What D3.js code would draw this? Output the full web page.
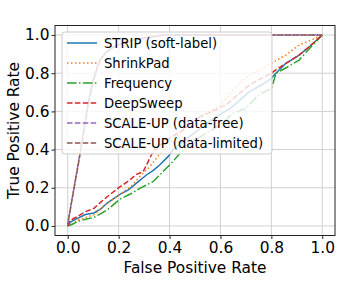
<!DOCTYPE html>
<html>
<head>
<meta charset="utf-8">
<script src="https://cdn.jsdelivr.net/npm/d3@7"></script>
<style>
    body { margin: 0; background: #fff; }
    text { font-family: "DejaVu Sans", sans-serif; fill: #000; }
</style>
</head>
<body>
<div id="svgcontainer"></div>
<script>
// ROC points: [false positive rate, true positive rate]
var strip = [[0, 0], [0.01, 0.02], [0.038, 0.04], [0.07, 0.06], [0.103, 0.068], [0.13, 0.09], [0.155, 0.12],
    [0.205, 0.165], [0.24, 0.19], [0.27, 0.224], [0.309, 0.267], [0.335, 0.29], [0.361, 0.319], [0.394, 0.363],
    [0.413, 0.398], [0.45, 0.44], [0.5, 0.49], [0.57, 0.56], [0.648, 0.625], [0.713, 0.703], [0.77, 0.745],
    [0.8, 0.773], [0.81, 0.79], [0.857, 0.852], [0.88, 0.87], [0.909, 0.895], [0.95, 0.94], [1, 1]];
var shrinkpad = [[0, 0], [0.02, 0.01], [0.038, 0.03], [0.07, 0.045], [0.103, 0.058], [0.13, 0.09], [0.155, 0.119],
    [0.2, 0.159], [0.22, 0.18], [0.25, 0.21], [0.283, 0.258], [0.322, 0.31], [0.348, 0.354], [0.374, 0.398],
    [0.4, 0.43], [0.465, 0.52], [0.53, 0.58], [0.596, 0.63], [0.648, 0.71], [0.713, 0.79], [0.76, 0.82],
    [0.8, 0.852], [0.857, 0.895], [0.909, 0.948], [0.95, 0.97], [1, 1]];
var frequency = [[0, 0], [0.02, 0.01], [0.038, 0.023], [0.07, 0.035], [0.103, 0.045], [0.13, 0.065], [0.155, 0.084],
    [0.205, 0.14], [0.25, 0.17], [0.283, 0.197], [0.335, 0.232], [0.374, 0.284], [0.413, 0.337], [0.44, 0.38],
    [0.5, 0.45], [0.55, 0.49], [0.6, 0.53], [0.648, 0.59], [0.7, 0.616], [0.752, 0.69], [0.8, 0.72],
    [0.805, 0.74], [0.818, 0.8], [0.86, 0.83], [0.909, 0.869], [0.95, 0.93], [1, 1]];
var deepsweep = [[0, 0], [0.01, 0.03], [0.038, 0.049], [0.07, 0.075], [0.103, 0.092], [0.13, 0.125], [0.155, 0.153],
    [0.2, 0.2], [0.244, 0.241], [0.27, 0.27], [0.296, 0.284], [0.31, 0.32], [0.322, 0.354], [0.335, 0.389],
    [0.387, 0.45], [0.45, 0.5], [0.518, 0.57], [0.622, 0.634], [0.713, 0.738], [0.77, 0.78], [0.8, 0.8],
    [0.82, 0.82], [0.857, 0.852], [0.909, 0.895], [0.95, 0.94], [1, 1]];
var scaleupFree = [[0, 0.01], [0.048, 0.38], [0.065, 0.52], [0.08, 0.64], [0.095, 0.74], [0.11, 0.81],
    [0.126, 0.87], [0.15, 0.91], [0.19, 0.945], [0.25, 0.97], [0.3, 0.985], [0.38, 1], [1, 1]];
var scaleupLimited = [[0, 0.01], [0.049, 0.38], [0.066, 0.52], [0.081, 0.64], [0.096, 0.74], [0.112, 0.81],
    [0.128, 0.87], [0.152, 0.91], [0.19, 0.945], [0.25, 0.97], [0.3, 0.985], [0.38, 1], [1, 1]];

var seriesNames = ["STRIP (soft-label)", "ShrinkPad", "Frequency", "DeepSweep",
    "SCALE-UP (data-free)", "SCALE-UP (data-limited)"];
var seriesData = [strip, shrinkpad, frequency, deepsweep, scaleupFree, scaleupLimited];
var tickValues = [0, 0.2, 0.4, 0.6, 0.8, 1.0];

var colors = ["#1f77b4", "#ff7f0e", "#2ca02c", "#d62728", "#9467bd", "#8c564b"];
var dashes = [null, "1.5,2.5", "9.6,2.4,1.5,2.4", "5.5,2.4", "5.5,2.4", "5.5,2.4"];

var width = 342, height = 281;
var x = d3.scaleLinear().domain([-0.05, 1.05]).range([55, 335]);
var y = d3.scaleLinear().domain([-0.05, 1.05]).range([235.5, 25.5]);

var svg = d3.select("#svgcontainer").append("svg")
    .attr("width", width)
    .attr("height", height);

// grid
svg.append("g").selectAll("line")
    .data(tickValues).enter().append("line")
    .attr("x1", function (d) { return x(d); })
    .attr("x2", function (d) { return x(d); })
    .attr("y1", y(-0.05))
    .attr("y2", y(1.05))
    .attr("stroke", "#d0d0d0")
    .attr("stroke-width", 1);
svg.append("g").selectAll("line")
    .data(tickValues).enter().append("line")
    .attr("y1", function (d) { return y(d); })
    .attr("y2", function (d) { return y(d); })
    .attr("x1", x(-0.05))
    .attr("x2", x(1.05))
    .attr("stroke", "#d0d0d0")
    .attr("stroke-width", 1);

var lineFunction = d3.line()
    .x(function (d) { return x(d[0]); })
    .y(function (d) { return y(d[1]); });

var plot = svg.append("g");
seriesData.forEach(function (data, i) {
    plot.append("path")
        .attr("d", lineFunction(data))
        .attr("fill", "none")
        .attr("stroke", colors[i])
        .attr("stroke-width", 1.5)
        .attr("stroke-dasharray", dashes[i])
        .attr("stroke-dashoffset", i == 5 ? 4 : 0);
});

// axes
var xAxis = d3.axisBottom(x).tickValues(tickValues).tickSize(3.5).tickPadding(3)
    .tickFormat(d3.format(".1f"));
var yAxis = d3.axisLeft(y).tickValues(tickValues).tickSize(3.5).tickPadding(2)
    .tickFormat(d3.format(".1f"));

var gx = svg.append("g")
    .attr("transform", "translate(0," + y(-0.05) + ")")
    .call(xAxis);
var gy = svg.append("g")
    .attr("transform", "translate(" + x(-0.05) + ",0)")
    .call(yAxis);
[gx, gy].forEach(function (g) {
    g.select(".domain").remove();
    g.selectAll("line").attr("stroke", "#222");
    g.selectAll("text")
        .style("font-family", "DejaVu Sans")
        .style("font-size", "15.4px")
        .attr("fill", "#000");
});

svg.append("rect")
    .attr("x", x(-0.05))
    .attr("y", y(1.05))
    .attr("width", x(1.05) - x(-0.05))
    .attr("height", y(-0.05) - y(1.05))
    .attr("fill", "none")
    .attr("stroke", "#222")
    .attr("stroke-width", 1);

svg.append("text")
    .attr("x", (x(-0.05) + x(1.05)) / 2)
    .attr("y", 272.5)
    .attr("text-anchor", "middle")
    .style("font-size", "15.4px")
    .text("False Positive Rate");
svg.append("text")
    .attr("transform", "translate(19.3," + (y(-0.05) + y(1.05)) / 2 + ") rotate(-90)")
    .attr("text-anchor", "middle")
    .style("font-size", "15.4px")
    .text("True Positive Rate");

// legend
var legend = svg.append("g");
legend.append("rect")
    .attr("x", 62)
    .attr("y", 32)
    .attr("width", 210)
    .attr("height", 122)
    .attr("rx", 3)
    .attr("fill", "#fff")
    .attr("fill-opacity", 0.8)
    .attr("stroke", "#cccccc")
    .attr("stroke-width", 1);
var items = legend.selectAll("g.item")
    .data(seriesNames).enter().append("g")
    .attr("class", "item")
    .attr("transform", function (d, i) {
        return "translate(0," + (43 + i * 20) + ")";
    });
items.append("line")
    .attr("x1", 67)
    .attr("x2", 97)
    .attr("stroke", function (d, i) { return colors[i]; })
    .attr("stroke-width", 1.5)
    .attr("stroke-dasharray", function (d, i) { return dashes[i]; });
items.append("text")
    .attr("x", 104)
    .attr("y", 4.7)
    .style("font-size", "13.2px")
    .text(function (d) { return d; });
</script>
</body>
</html>
